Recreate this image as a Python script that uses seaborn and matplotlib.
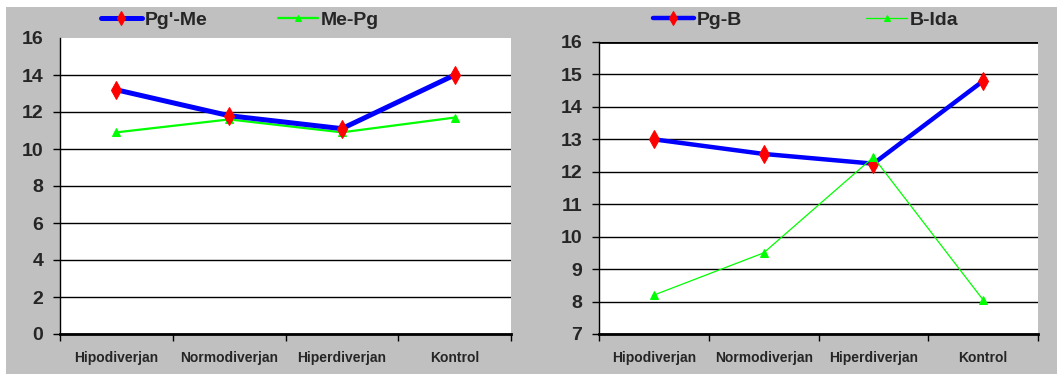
import matplotlib
matplotlib.use("Agg")
import matplotlib.pyplot as plt
from matplotlib.patches import Rectangle
import seaborn as sns
import pandas as pd
import numpy as np

# Groups on the x axis
groups = ["Hipodiverjan", "Normodiverjan", "Hiperdiverjan", "Kontrol"]

# Left panel series
pgp_me = [13.2, 11.8, 11.1, 14.0]
me_pg = [10.9, 11.6, 10.9, 11.7]

# Right panel series
pg_b = [13.0, 12.55, 12.25, 14.8]
b_ida = [8.2, 9.5, 12.45, 8.05]

left_ticks = [0, 2, 4, 6, 8, 10, 12, 14, 16]
right_ticks = [7, 8, 9, 10, 11, 12, 13, 14, 15, 16]

sns.set_theme(style="white")
plt.rcParams["font.family"] = ["Liberation Sans", "DejaVu Sans"]
plt.rcParams["font.weight"] = "bold"

GRAY = "#c0c0c0"
W, H = 1057, 374
fig = plt.figure(figsize=(W / 100, H / 100), dpi=100, facecolor=GRAY)

# white margin strips along the top and left edges
fig.patches.append(Rectangle((0, 1 - 7 / H), 1, 7 / H, transform=fig.transFigure,
                             facecolor="white", edgecolor="none", zorder=0))
fig.patches.append(Rectangle((0, 0), 6 / W, 1, transform=fig.transFigure,
                             facecolor="white", edgecolor="none", zorder=0))

ax1 = fig.add_axes([60 / W, 1 - 334 / H, 451 / W, (334 - 38) / H])
ax2 = fig.add_axes([599 / W, 1 - 334 / H, 439 / W, (334 - 42) / H])

df_left = pd.DataFrame({"grup": groups, "Pg'-Me": pgp_me, "Me-Pg": me_pg})
df_right = pd.DataFrame({"grup": groups, "Pg-B": pg_b, "B-Ida": b_ida})

BLUE = "#0000ff"
RED = "#ff0000"
GREEN = "#00ff00"

sns.lineplot(data=df_left, x="grup", y="Pg'-Me", ax=ax1, sort=False, color=BLUE,
             lw=3.6, marker="d", markersize=9, markerfacecolor=RED,
             markeredgecolor=RED, label="Pg'-Me", zorder=4)
sns.lineplot(data=df_left, x="grup", y="Me-Pg", ax=ax1, sort=False, color=GREEN,
             lw=1.6, marker="^", markersize=6, markerfacecolor=GREEN,
             markeredgecolor=GREEN, label="Me-Pg", zorder=3)

sns.lineplot(data=df_right, x="grup", y="Pg-B", ax=ax2, sort=False, color=BLUE,
             lw=3.2, marker="d", markersize=9, markerfacecolor=RED,
             markeredgecolor=RED, label="Pg-B", zorder=3)
sns.lineplot(data=df_right, x="grup", y="B-Ida", ax=ax2, sort=False, color=GREEN,
             lw=0.9, marker="^", markersize=6, markerfacecolor=GREEN,
             markeredgecolor=GREEN, label="B-Ida", zorder=4)


def style_axis(ax, yticks):
    ax.set_facecolor("white")
    ax.set_xlim(-0.5, 3.5)
    ax.set_ylim(yticks[0], yticks[-1])
    ax.set_xlabel("")
    ax.set_ylabel("")
    # category boundaries carry the tick marks, names sit between them
    ax.set_xticks(np.arange(-0.5, 4.0, 1.0))
    ax.set_xticklabels([])
    ax.set_xticks(np.arange(4), minor=True)
    ax.set_xticklabels(groups, minor=True, fontsize=10, fontweight="bold")
    ax.tick_params(axis="x", which="major", direction="out", length=5,
                   width=1, color="black", bottom=True)
    ax.tick_params(axis="x", which="minor", length=0, pad=12)
    ax.set_yticks(yticks)
    ax.set_yticklabels([str(t) for t in yticks], fontsize=14, fontweight="bold")
    ax.tick_params(axis="y", direction="out", length=5, width=1,
                   color="black", left=True, pad=7)
    ax.grid(axis="y", color="black", lw=1.0)
    ax.grid(axis="x", visible=False)
    for s in ("top", "right"):
        ax.spines[s].set_visible(False)
    ax.spines["left"].set_color("black")
    ax.spines["left"].set_linewidth(1.0)
    ax.spines["bottom"].set_color("black")
    ax.spines["bottom"].set_linewidth(2.0)
    ax.set_axisbelow(True)


style_axis(ax1, left_ticks)
style_axis(ax2, right_ticks)

# left panel: no rule or tick at the top value
ax1.get_ygridlines()[-1].set_visible(False)
ax1.yaxis.get_major_ticks()[-1].tick1line.set_visible(False)
# right panel: heavier rule at the top value
ax2.get_ygridlines()[-1].set_linewidth(2.0)

legend_kw = dict(loc="center left", bbox_transform=fig.transFigure, ncol=2,
                 frameon=False, borderpad=0, borderaxespad=0,
                 handlelength=2.1, handletextpad=0.15, markerscale=0.8,
                 prop={"size": 14, "weight": "bold"})
ax1.legend(bbox_to_anchor=(101 / W, 1 - 20 / H), columnspacing=3.6, **legend_kw)
ax2.legend(bbox_to_anchor=(653 / W, 1 - 20 / H), columnspacing=6.4, **legend_kw)

fig.savefig("out.png", dpi=100, facecolor=GRAY)
